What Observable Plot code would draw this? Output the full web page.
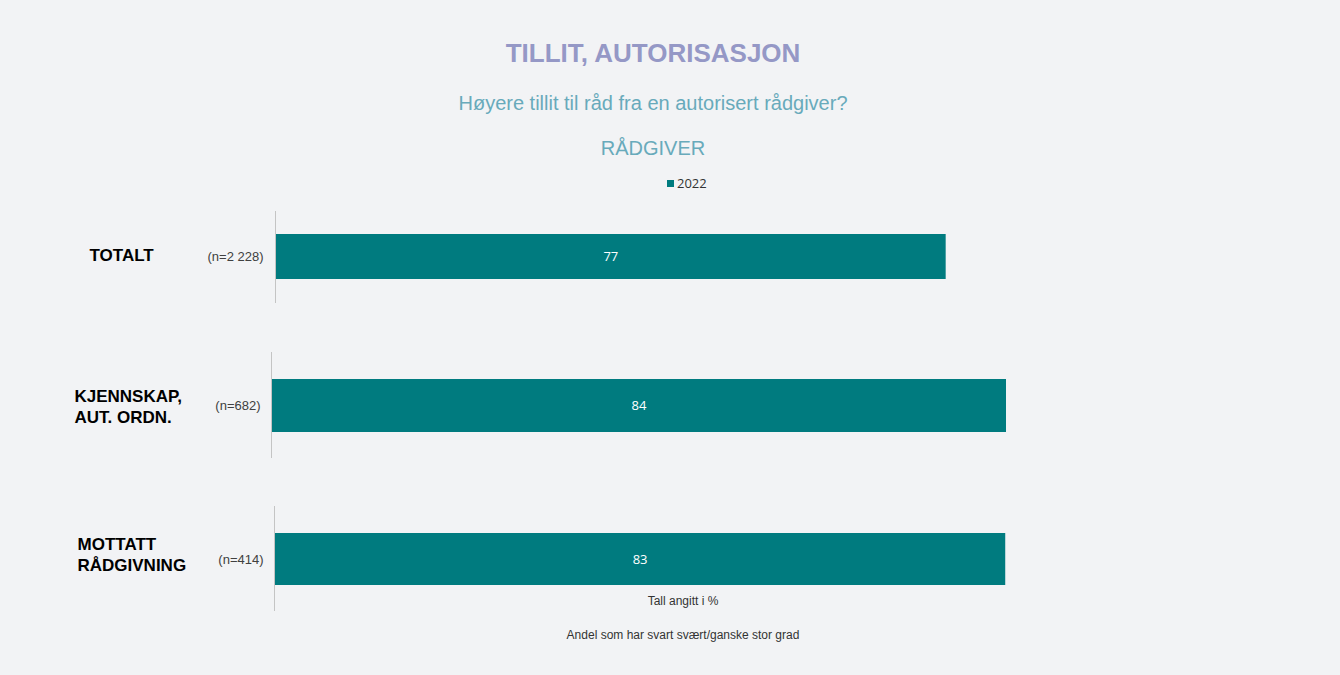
<!DOCTYPE html>
<html>
<head>
<meta charset="utf-8">
<script src="https://cdn.jsdelivr.net/npm/d3@7"></script>
<script src="https://cdn.jsdelivr.net/npm/@observablehq/plot@0.6"></script>
<style>
  html, body { margin: 0; padding: 0; background: #f2f3f5; }
  #root { position: relative; width: 1340px; height: 675px; background: #f2f3f5; font-family: "Liberation Sans", Arial, sans-serif; overflow: hidden; }
  .abs { position: absolute; white-space: nowrap; }
  .center { transform: translateX(-50%); }
  .panel { position: absolute; left: 0; }
</style>
</head>
<body>
<div id="root">
  <div class="abs center" style="left:653px; top:38px; font-size:26px; font-weight:bold; color:#9598c6;">TILLIT, AUTORISASJON</div>
  <div class="abs center" style="left:653px; top:92px; font-size:20px; color:#68aabb;">Høyere tillit til råd fra en autorisert rådgiver?</div>
  <div class="abs center" style="left:653px; top:137px; font-size:20px; color:#68aabb;">RÅDGIVER</div>
  <div id="legend" class="abs" style="left:667px; top:174px; font-size:13px; color:#333; font-family:'Open Sans','Liberation Sans',sans-serif;"></div>
  <div id="panels"></div>
  <div class="abs center" style="left:683px; top:594px; font-size:12px; color:#333;">Tall angitt i %</div>
  <div class="abs center" style="left:683px; top:628px; font-size:12px; color:#333;">Andel som har svart svært/ganske stor grad</div>
</div>
<script>
// ---- data ----
const categories = ["TOTALT", "KJENNSKAP,\nAUT. ORDN.", "MOTTATT\nRÅDGIVNING"];
const sampleLabels = ["(n=2 228)", "(n=682)", "(n=414)"];
const series = ["2022"];
const values2022 = [77, 84, 83];

// ---- layout (per panel) ----
const teal = "#007b7f";
const layout = [
  {top: 205, height: 104, marginLeft: 275, pxPer100: 871, catDx: -186, catDy: -3, nDx: -12},
  {top: 346, height: 118, marginLeft: 271, pxPer100: 875, catDx: -197, catDy: 0,  nDx: -11},
  {top: 500, height: 117, marginLeft: 274, pxPer100: 881, catDx: -197, catDy: -6, nDx: -11}
];

// legend
const legend = document.getElementById("legend");
legend.innerHTML = series.map(s =>
  `<span style="display:inline-block;width:7px;height:7px;background:${teal};margin-right:3px;vertical-align:1px;"></span>${s}`
).join("");

const panels = document.getElementById("panels");
categories.forEach((cat, i) => {
  const L = layout[i];
  const row = [{cat, n: sampleLabels[i], value: values2022[i]}];
  const chart = Plot.plot({
    width: L.marginLeft + L.pxPer100,
    height: L.height,
    marginLeft: L.marginLeft,
    marginRight: 0,
    marginTop: 6,
    marginBottom: 6,
    x: {domain: [0, 100], axis: null},
    y: {domain: [cat], axis: null, padding: 1/3},
    style: {background: "transparent", overflow: "visible", fontFamily: "'Liberation Sans', Arial, sans-serif"},
    marks: [
      Plot.barX(row, {x: "value", y: "cat", fill: teal}),
      Plot.ruleX([0], {stroke: "#c4c4c4", strokeWidth: 1}),
      Plot.text(row, {x: d => d.value / 2, y: "cat", text: d => String(d.value), fill: "white", fontSize: 13, fontFamily: "'Open Sans', 'Liberation Sans', sans-serif"}),
      Plot.text(row, {x: 0, y: "cat", text: "n", textAnchor: "end", dx: L.nDx, fill: "#404040", fontSize: 13}),
      Plot.text(row, {x: 0, y: "cat", text: "cat", textAnchor: "start", dx: L.catDx, dy: L.catDy, fill: "#000", fontSize: 17, fontWeight: "bold", lineHeight: 1.24})
    ]
  });
  chart.classList.add("panel");
  chart.style.top = L.top + "px";
  panels.appendChild(chart);
});
</script>
</body>
</html>
